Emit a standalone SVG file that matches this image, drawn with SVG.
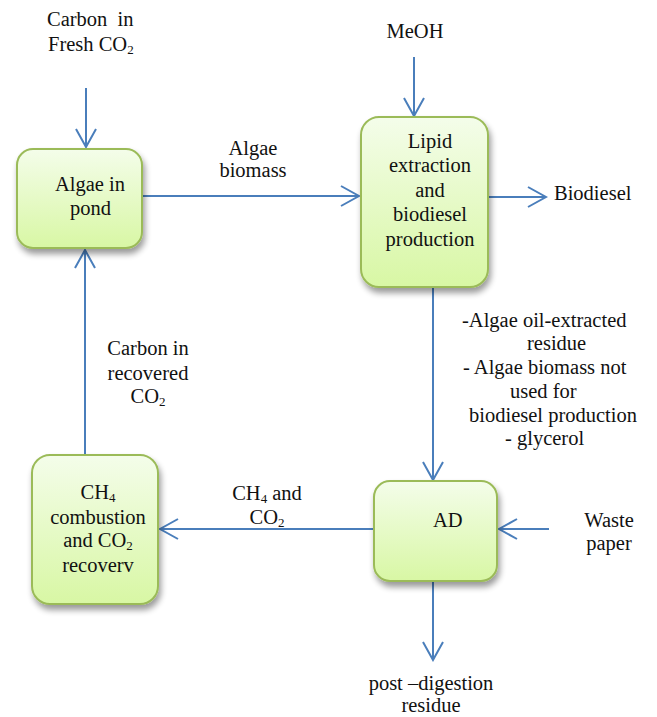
<svg xmlns="http://www.w3.org/2000/svg" width="657" height="717" viewBox="0 0 657 717" font-family="Liberation Serif, DejaVu Serif, serif">
<style>
text{font-family:"Liberation Serif","DejaVu Serif","Times New Roman",serif;font-size:20.5px;fill:#111}
.c{text-anchor:middle}
.sub{font-size:13px}
.box{fill:url(#g);stroke:#9bbb59;stroke-width:2;filter:url(#sh)}
.ln{stroke:#4a7ebb;stroke-width:2;fill:none;marker-end:url(#ah)}
</style>
<defs>
<linearGradient id="g" x1="0" y1="0" x2="0" y2="1">
<stop offset="0" stop-color="#f4fdea"/>
<stop offset="1" stop-color="#d8f7a4"/>
</linearGradient>
<filter id="sh" x="-20%" y="-20%" width="150%" height="150%">
<feGaussianBlur in="SourceAlpha" stdDeviation="3"/>
<feOffset dx="2" dy="5" result="b"/>
<feComponentTransfer><feFuncA type="linear" slope="0.4"/></feComponentTransfer>
<feMerge><feMergeNode/><feMergeNode in="SourceGraphic"/></feMerge>
</filter>
<marker id="ah" markerUnits="userSpaceOnUse" markerWidth="22" markerHeight="24" viewBox="0 0 22 24" refX="20" refY="12" orient="auto">
<path d="M2,2 L20,12 L2,22" stroke="#4a7ebb" stroke-width="2" fill="none"/>
</marker>
</defs>

<g id="connectors">
<line class="ln" x1="86" y1="88" x2="86" y2="147"/>
<line class="ln" x1="414" y1="57" x2="414" y2="116"/>
<line class="ln" x1="142" y1="196" x2="359" y2="196"/>
<line class="ln" x1="488" y1="197" x2="546" y2="197"/>
<line class="ln" x1="433" y1="288" x2="433" y2="480"/>
<line class="ln" x1="374" y1="529" x2="160" y2="529"/>
<line class="ln" x1="549" y1="529" x2="499" y2="529"/>
<line class="ln" x1="433" y1="582" x2="433" y2="660"/>
<line class="ln" x1="85" y1="455" x2="85" y2="250"/>
</g>

<g id="algae-pond">
<rect class="box" x="17" y="149" width="125" height="99" rx="16"/>
<text x="55" y="191">Algae in</text>
<text x="70" y="215">pond</text>
</g>

<g id="lipid-extraction">
<rect class="box" x="361" y="117" width="127" height="170" rx="18"/>
<text class="c" x="430" y="148">Lipid</text>
<text class="c" x="430" y="172">extraction</text>
<text class="c" x="430" y="197">and</text>
<text class="c" x="430" y="221">biodiesel</text>
<text class="c" x="430" y="246">production</text>
</g>

<g id="ch4-combustion">
<rect class="box" x="32" y="455" width="126" height="149" rx="18"/>
<text class="c" x="98" y="499">CH<tspan class="sub" dy="3">4</tspan></text>
<text class="c" x="98" y="524">combustion</text>
<text class="c" x="98" y="547">and CO<tspan class="sub" dy="3">2</tspan></text>
<text class="c" x="98" y="572">recoverv</text>
</g>

<g id="ad">
<rect class="box" x="374" y="481" width="123" height="100" rx="16"/>
<text x="433" y="527">AD</text>
</g>

<g id="labels">
<text x="47" y="26" xml:space="preserve">Carbon  in</text>
<text x="48" y="51">Fresh CO<tspan class="sub" dy="3">2</tspan></text>
<text class="c" x="415" y="38">MeOH</text>
<text class="c" x="253" y="155">Algae</text>
<text class="c" x="253" y="177">biomass</text>
<text x="554" y="200">Biodiesel</text>
<text x="462" y="327">-Algae oil-extracted</text>
<text x="527" y="350">residue</text>
<text x="463" y="374">- Algae biomass not</text>
<text x="510" y="398">used for</text>
<text x="469" y="422">biodiesel production</text>
<text x="505" y="445">- glycerol</text>
<text class="c" x="148" y="355">Carbon in</text>
<text class="c" x="148" y="380">recovered</text>
<text class="c" x="148" y="403">CO<tspan class="sub" dy="3">2</tspan></text>
<text class="c" x="267" y="500">CH<tspan class="sub" dy="3">4</tspan><tspan dy="-3"> and</tspan></text>
<text class="c" x="267" y="524">CO<tspan class="sub" dy="3">2</tspan></text>
<text class="c" x="609" y="527">Waste</text>
<text class="c" x="609" y="550">paper</text>
<text class="c" x="431" y="690">post –digestion</text>
<text class="c" x="431" y="712">residue</text>
</g>
</svg>
